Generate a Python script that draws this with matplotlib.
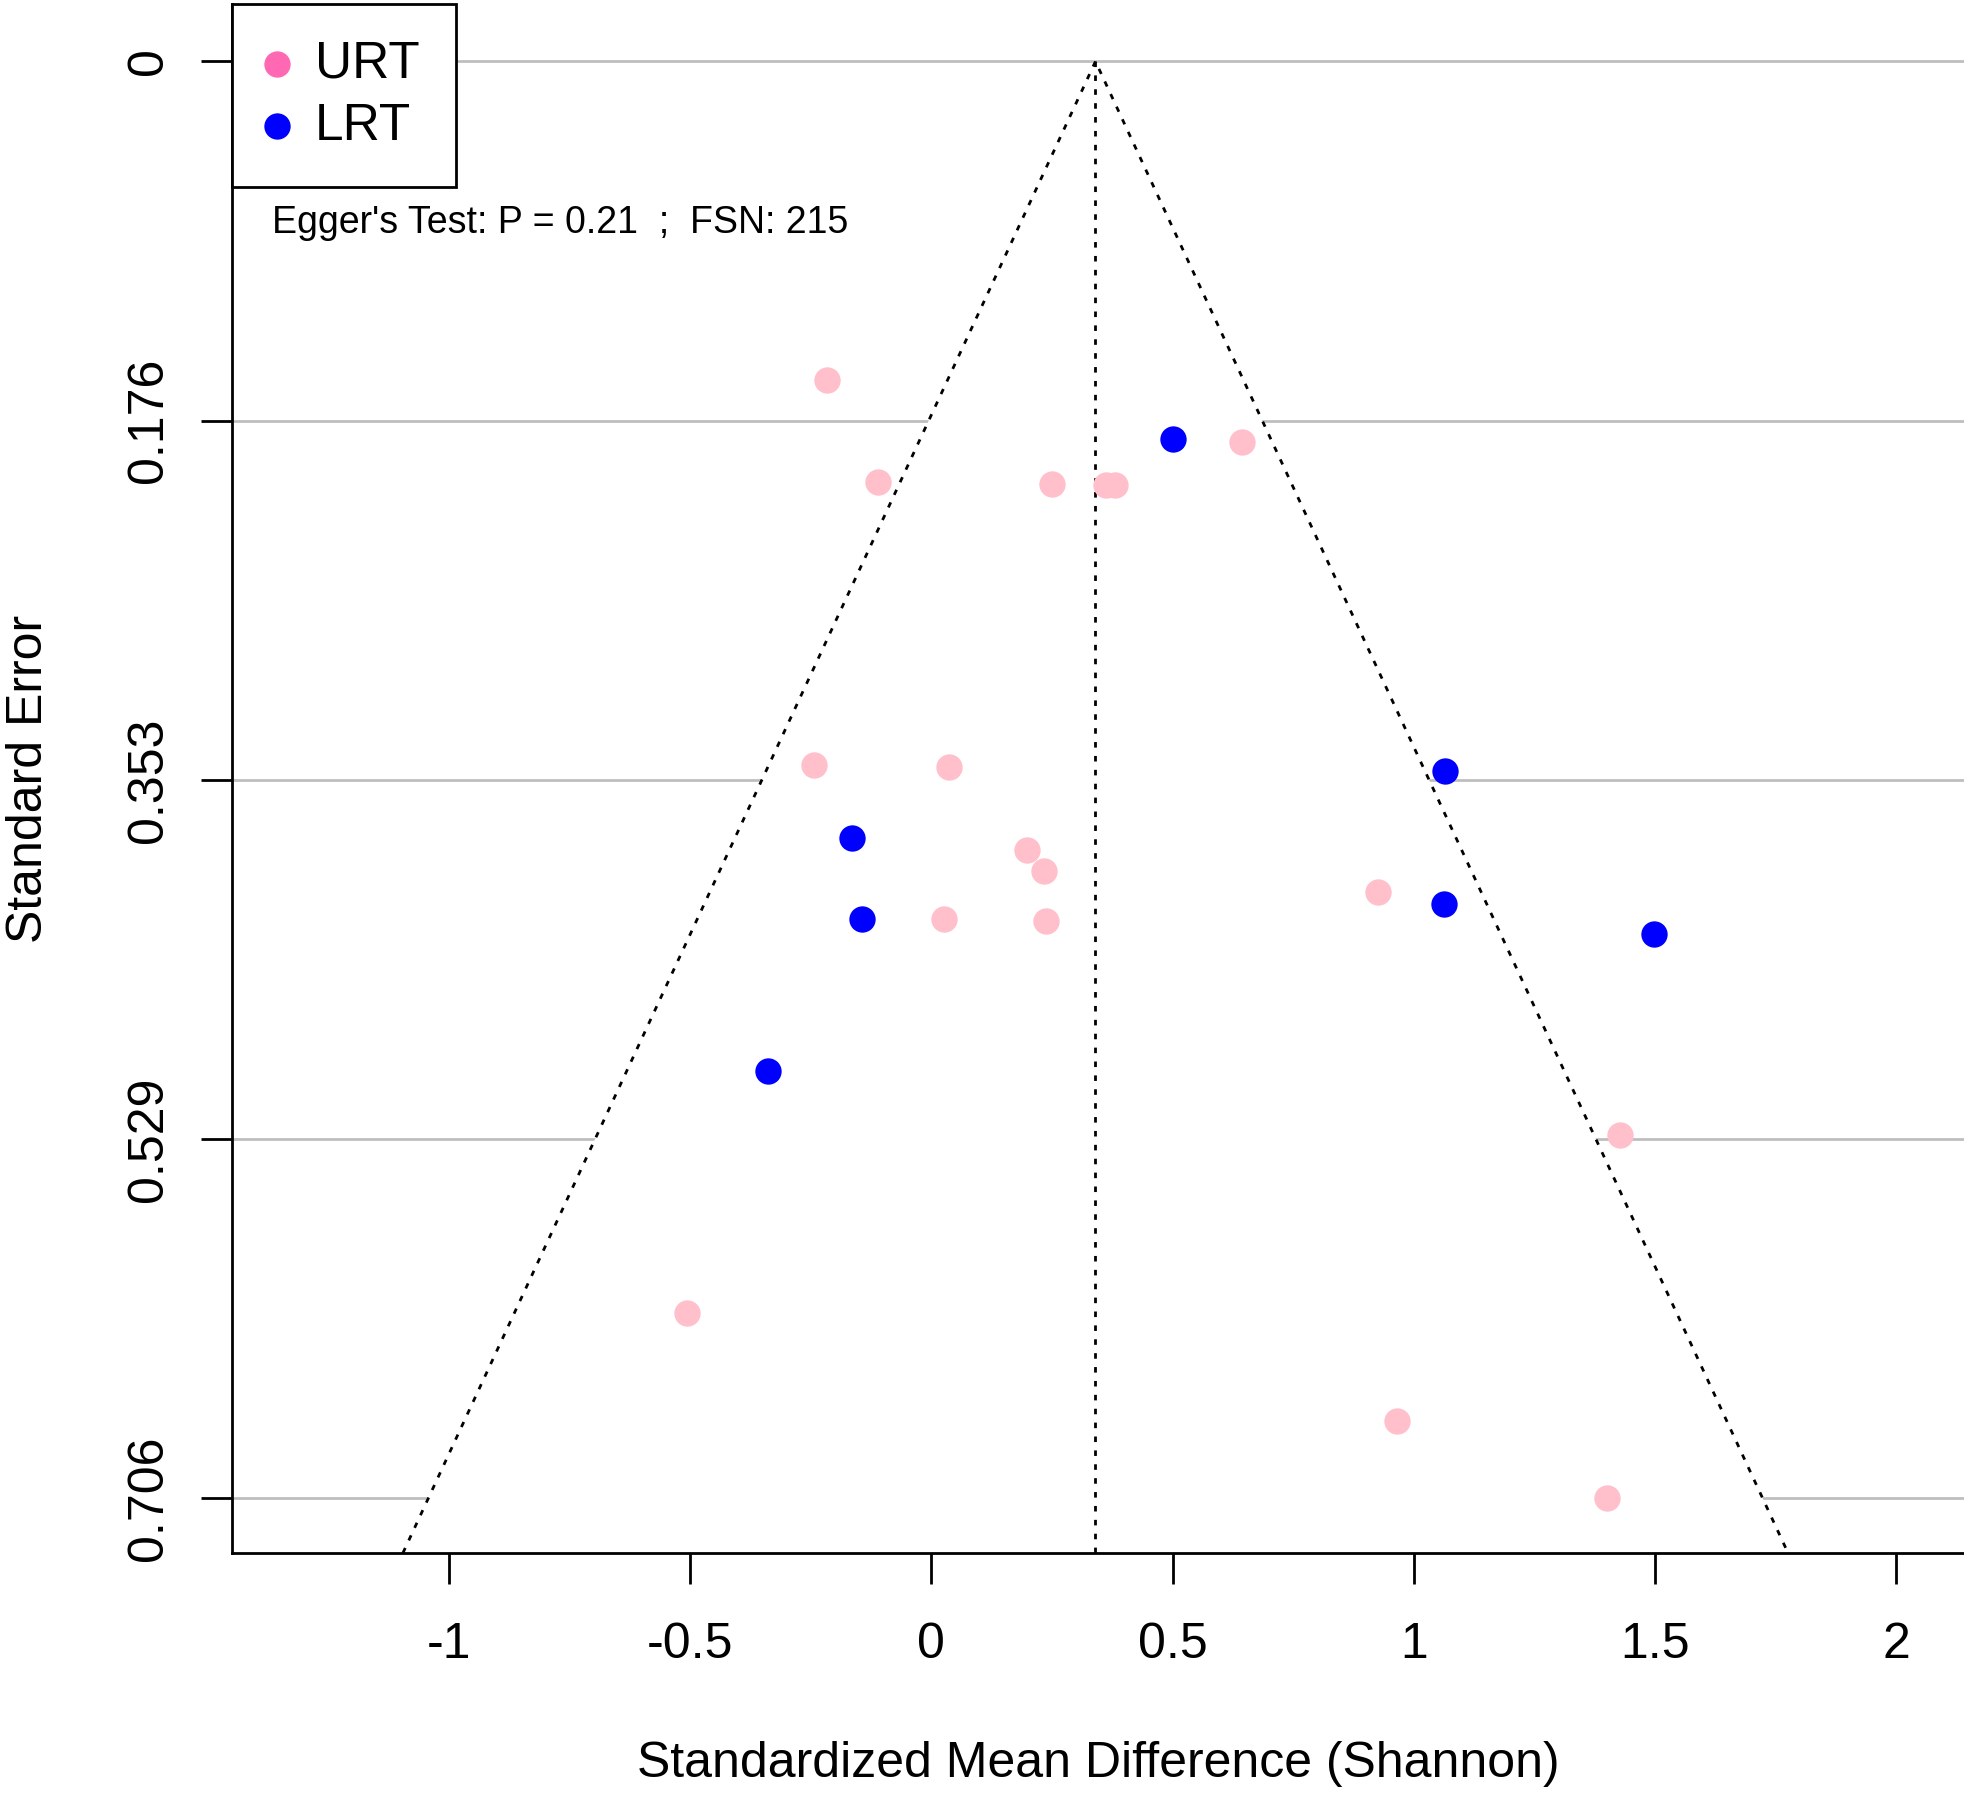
import numpy as np
import matplotlib.pyplot as plt

plt.rcParams['font.family'] = ['Liberation Sans', 'DejaVu Sans']

# effect sizes (SMD) and standard errors
urt_smd = [-0.217, -0.110, 0.251, 0.362, 0.381, 0.645, -0.243, 0.036, 0.198,
           0.234, 0.026, 0.237, 0.927, 1.427, -0.507, 0.965, 1.401]
urt_se = [0.1565, 0.2068, 0.2074, 0.2079, 0.2079, 0.1872, 0.3456, 0.3465, 0.3872,
          0.3977, 0.4211, 0.4223, 0.4079, 0.5274, 0.6150, 0.6677, 0.7055]
lrt_smd = [0.501, 1.066, -0.164, 1.063, -0.143, 1.499, -0.339]
lrt_se = [0.1854, 0.3486, 0.3814, 0.4139, 0.4214, 0.4287, 0.4957]

pooled = 0.3403
se_max = 0.70588
yticks = [0, se_max / 4, se_max / 2, 3 * se_max / 4, se_max]
ytick_labels = ['0', '0.176', '0.353', '0.529', '0.706']
xticks = [-1, -0.5, 0, 0.5, 1, 1.5, 2]
xtick_labels = ['-1', '-0.5', '0', '0.5', '1', '1.5', '2']
note = "Egger's Test: P = 0.21  ;  FSN: 215"

W, H = 1965, 1795
fig = plt.figure(figsize=(W / 100, H / 100), dpi=100)
ax = fig.add_axes([232 / W, 1 - 1553 / H, 1 - 232 / W, (1553 - 4) / H])

ybot, ytop = 0.7327, -0.0282
ax.set_xlim(-1.4502, 2.1433)
ax.set_ylim(ybot, ytop)

# background lines, then white funnel on top of them
for t in yticks:
    ax.axhline(t, color='#BEBEBE', lw=2.0, zorder=0)
half = 1.96 * ybot
ax.fill([pooled - half, pooled, pooled + half], [ybot, 0, ybot],
        color='white', zorder=1, lw=0)
ax.plot([pooled - half, pooled, pooled + half], [ybot, 0, ybot],
        color='black', lw=2.0, ls=(0, (2, 3)), zorder=2)
ax.plot([pooled, pooled], [0, ybot], color='black', lw=2.0,
        ls=(0, (2, 3)), zorder=2)

ax.scatter(urt_smd, urt_se, s=360, color='#FFC0CB', lw=0, zorder=3)
ax.scatter(lrt_smd, lrt_se, s=360, color='#0000FF', lw=0, zorder=3)

# legend (hotpink swatch for URT as in the original)
h1 = ax.scatter([], [], s=360, color='#FF69B4', lw=0)
h2 = ax.scatter([], [], s=360, color='#0000FF', lw=0)
leg = ax.legend([h1, h2], ['URT', 'LRT'], loc='upper left', fontsize=37,
                borderaxespad=0, borderpad=0.70, labelspacing=0.25,
                handlelength=0.37, handletextpad=0.55, fancybox=False,
                framealpha=1, edgecolor='black', scatterpoints=1)
leg.get_frame().set_linewidth(2.0)
leg.set_zorder(10)

ax.text(0.0228, 0.8524, note, transform=ax.transAxes, fontsize=27,
        va='baseline', ha='left')

ax.set_xticks(xticks)
ax.set_xticklabels(xtick_labels)
ax.set_yticks(yticks)
ax.set_yticklabels(ytick_labels, rotation=90, va='center')
ax.tick_params(axis='both', direction='out', length=22, width=2.0,
               labelsize=36)
ax.tick_params(axis='x', pad=28)
ax.tick_params(axis='y', pad=21)

for s in ['top', 'right']:
    ax.spines[s].set_visible(False)
for s in ['left', 'bottom']:
    ax.spines[s].set_linewidth(2.0)

ax.set_xlabel('Standardized Mean Difference (Shannon)', fontsize=36)
ax.set_ylabel('Standard Error', fontsize=36)
ax.xaxis.set_label_coords(0.5, -0.1215)
ax.yaxis.set_label_coords(-0.1039, 0.5)

fig.savefig('out.png', dpi=100)
